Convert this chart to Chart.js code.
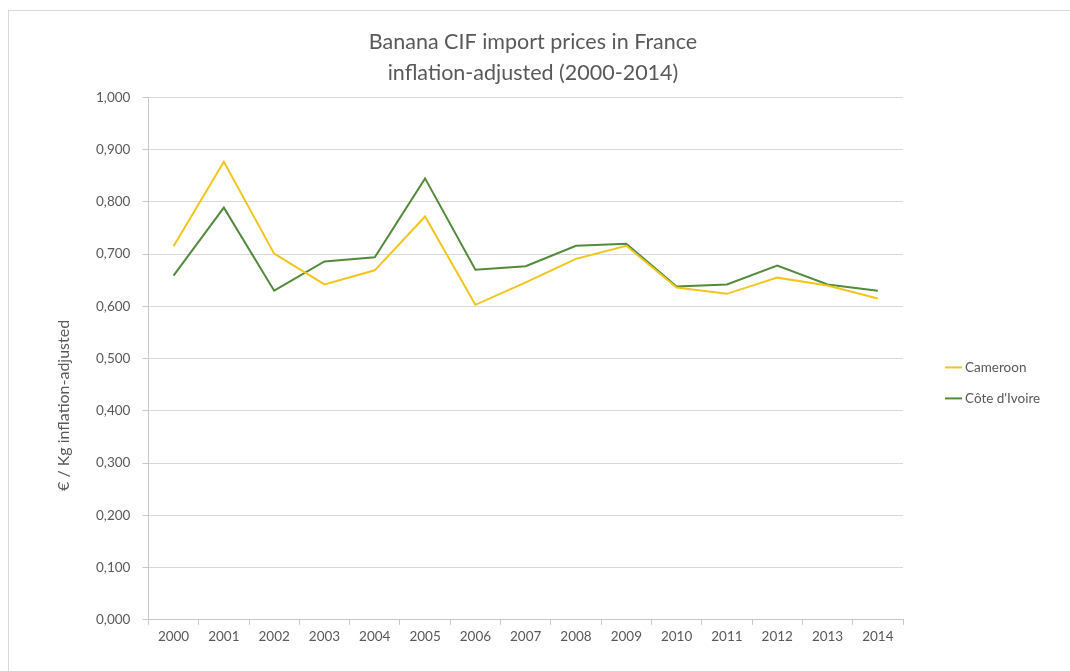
<!DOCTYPE html>
<html>
<head>
<meta charset="utf-8">
<script src="https://cdn.jsdelivr.net/npm/chart.js@4/dist/chart.umd.min.js"></script>
<style>
    body { margin: 0; background: #fff; }
    #frame {
        position: absolute; left: 8px; top: 10px;
        width: 1070px; height: 670px;
        border: 1px solid #d9d9d9;
        box-sizing: border-box;
    }
    #wrap { position: absolute; left: 0; top: 0; width: 1061px; height: 660px; }
</style>
</head>
<body>
<div id="frame"><div id="wrap"><canvas id="bananaChart"></canvas></div></div>
<script>
// Años y precios CIF (€/kg, ajustados por inflación)
const years = ['2000', '2001', '2002', '2003', '2004', '2005', '2006', '2007',
               '2008', '2009', '2010', '2011', '2012', '2013', '2014'];
const cameroon = [0.715, 0.877, 0.701, 0.642, 0.669, 0.772, 0.603, 0.646,
                  0.691, 0.716, 0.636, 0.624, 0.655, 0.640, 0.615];
const coteIvoire = [0.659, 0.789, 0.630, 0.686, 0.694, 0.845, 0.670, 0.677,
                    0.716, 0.720, 0.638, 0.642, 0.678, 0.642, 0.630];
const titleLines = ['Banana CIF import prices in France', 'inflation-adjusted (2000-2014)'];
const yTitle = '€ / Kg inflation-adjusted';

const textColor = '#595959';
const gridColor = '#d9d9d9';
const axisColor = '#c8c8c8';
const fontFamily = 'Lato, "Open Sans", sans-serif';

// Título del eje Y (un poco por debajo del centro) y leyenda a la derecha
const sideTexts = {
    id: 'sideTexts',
    afterDraw(chart) {
        const ctx = chart.ctx;
        const area = chart.chartArea;
        ctx.save();
        ctx.fillStyle = textColor;

        ctx.font = '16px ' + fontFamily;
        ctx.textAlign = 'center';
        ctx.textBaseline = 'middle';
        ctx.translate(area.left - 85, area.top + 308);
        ctx.rotate(-Math.PI / 2);
        ctx.fillText(yTitle, 0, 0);
        ctx.restore();

        ctx.save();
        ctx.font = '13.5px ' + fontFamily;
        ctx.textAlign = 'left';
        ctx.textBaseline = 'middle';
        chart.data.datasets.forEach(function(ds, i) {
            const y = area.top + 270 + i * 31;
            const x = area.right + 42;
            ctx.strokeStyle = ds.borderColor;
            ctx.lineWidth = 2;
            ctx.beginPath();
            ctx.moveTo(x, y);
            ctx.lineTo(x + 17, y);
            ctx.stroke();
            ctx.fillStyle = textColor;
            ctx.fillText(ds.label, x + 20, y);
        });
        ctx.restore();
    }
};

new Chart(document.getElementById('bananaChart'), {
    type: 'line',
    data: {
        labels: years,
        datasets: [
            {
                label: 'Cameroon',
                data: cameroon,
                borderColor: '#f2c51e',
                backgroundColor: '#f2c51e',
                borderWidth: 2,
                pointRadius: 0,
                tension: 0
            },
            {
                label: "Côte d'Ivoire",
                data: coteIvoire,
                borderColor: '#538a3c',
                backgroundColor: '#538a3c',
                borderWidth: 2,
                pointRadius: 0,
                tension: 0
            }
        ]
    },
    plugins: [sideTexts],
    options: {
        responsive: true,
        maintainAspectRatio: false,
        animation: false,
        layout: {
            padding: { left: 75, right: 88, top: 0, bottom: 22 }
        },
        plugins: {
            title: {
                display: true,
                text: titleLines,
                color: textColor,
                font: { family: fontFamily, size: 21.5, weight: 'normal', lineHeight: 1.44 },
                padding: { top: 15.5, bottom: 9 }
            },
            legend: { display: false },
            tooltip: { enabled: false }
        },
        scales: {
            x: {
                offset: true,
                grid: {
                    offset: true,
                    drawOnChartArea: false,
                    color: axisColor,
                    tickLength: 5
                },
                border: { color: axisColor },
                ticks: {
                    color: textColor,
                    font: { family: fontFamily, size: 13.5 },
                    maxRotation: 0,
                    padding: 4
                }
            },
            y: {
                min: 0,
                max: 1,
                grid: { color: gridColor, tickLength: 6, tickColor: axisColor },
                border: { color: axisColor },
                ticks: {
                    stepSize: 0.1,
                    color: textColor,
                    font: { family: fontFamily, size: 13.5 },
                    padding: 12,
                    callback: function(value) {
                        return value.toFixed(3).replace('.', ',');
                    }
                }
            },
            // espacio reservado a la derecha para la leyenda
            yRight: {
                position: 'right',
                min: 0,
                max: 1,
                grid: { display: false },
                border: { display: false },
                ticks: { display: false },
                afterFit: function(scale) {
                    scale.width = 79;
                }
            }
        }
    }
});
</script>
</body>
</html>
